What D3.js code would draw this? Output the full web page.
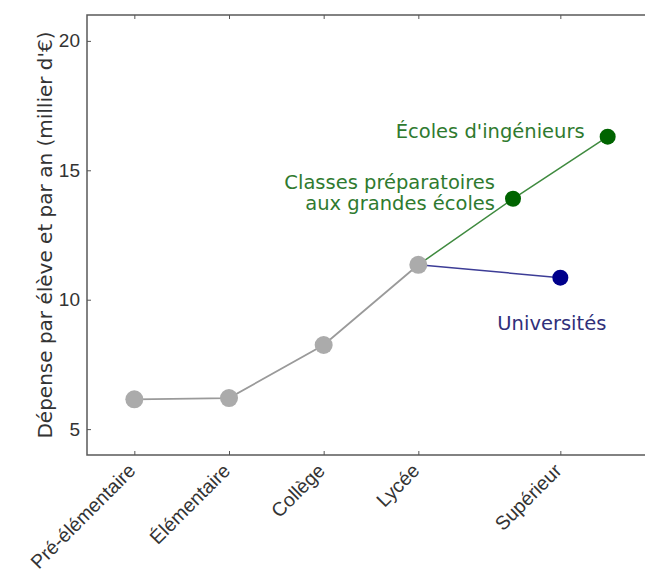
<!DOCTYPE html>
<html>
<head>
<meta charset="utf-8">
<style>
  body { margin: 0; background: #fff; overflow: hidden; }
  svg { display: block; font-family: "DejaVu Sans", sans-serif; }
  .tick text { fill: #333; }
</style>
<script src="https://d3js.org/d3.v7.min.js"></script>
</head>
<body>
<div class="home"></div>
<script>
    // main path: pré-élémentaire -> lycée, then "supérieur" branches
    const levels = ["Pré-élémentaire", "Élémentaire", "Collège", "Lycée", "Supérieur"];
    const levelPos = [0, 1, 2, 3, 4.5];
    const mainValues = [6.15, 6.2, 8.25, 11.35];

    const branchNames = ["Universités", "Classes préparatoires|aux grandes écoles", "Écoles d'ingénieurs"];
    const branchPos = [4.5, 4, 5];
    const branchValues = [10.85, 13.9, 16.3];
    const branchGroup = ["univ", "green", "green"];

    const yTicks = [5, 10, 15, 20];

    const width = 645, height = 580;
    const margin = {left: 87, top: 15, right: -10, bottom: 125};

    const svg = d3.select(".home").append("svg")
        .attr("width", width)
        .attr("height", height);

    const x = d3.scaleLinear()
        .domain([-0.5, 5.5])
        .range([margin.left, width - margin.right]);

    const y = d3.scaleLinear()
        .domain([4, 21])
        .range([height - margin.bottom, margin.top]);

    const colors = {univ: "#00008b", green: "#006400"};
    const lineColors = {univ: "#3c3c96", green: "#3f8a3f"};
    const labelColors = {univ: "#30307a", green: "#2f7a2f"};

    const lycee = {x: levelPos[3], v: mainValues[3]};
    const line = d3.line().x(d => x(d.x)).y(d => y(d.v));

    const g = svg.append("g");
    g.append("path")
        .datum([lycee, {x: branchPos[0], v: branchValues[0]}])
        .attr("fill", "none")
        .attr("stroke", lineColors.univ)
        .attr("stroke-width", 1.5)
        .attr("d", line);

    g.append("path")
        .datum([lycee, {x: branchPos[1], v: branchValues[1]}, {x: branchPos[2], v: branchValues[2]}])
        .attr("fill", "none")
        .attr("stroke", lineColors.green)
        .attr("stroke-width", 1.5)
        .attr("d", line);

    const mainData = mainValues.map((v, i) => ({x: levelPos[i], v: v}));
    g.append("path")
        .datum(mainData)
        .attr("fill", "none")
        .attr("stroke", "#9a9a9a")
        .attr("stroke-width", 1.8)
        .attr("d", line);

    g.selectAll("circle.main")
        .data(mainData)
        .enter().append("circle")
        .attr("class", "main")
        .attr("cx", d => x(d.x))
        .attr("cy", d => y(d.v))
        .attr("r", 9)
        .attr("fill", "#ababab");

    const branchData = branchValues.map((v, i) => ({
        x: branchPos[i], v: v, name: branchNames[i], grp: branchGroup[i]
    }));

    g.selectAll("circle.branch")
        .data(branchData)
        .enter().append("circle")
        .attr("class", "branch")
        .attr("cx", d => x(d.x))
        .attr("cy", d => y(d.v))
        .attr("r", 8)
        .attr("fill", d => colors[d.grp]);

    // labels
    const labelOffsets = [
        {dx: -63, dy: 52, anchor: "start"},
        {dx: -18, dy: -10, anchor: "end"},
        {dx: -23, dy: 1, anchor: "end"}
    ];
    branchData.forEach((d, i) => {
        const o = labelOffsets[i];
        const lines = d.name.split("|");
        const t = svg.append("text")
            .attr("x", x(d.x) + o.dx)
            .attr("y", y(d.v) + o.dy)
            .attr("text-anchor", o.anchor)
            .attr("fill", labelColors[d.grp])
            .style("font-size", "19.5px");
        lines.forEach((l, j) => {
            t.append("tspan")
                .attr("x", x(d.x) + o.dx)
                .attr("dy", j === 0 ? 0 : 21)
                .text(l);
        });
    });

    // frame: left, top, bottom (right side is outside the picture)
    const x0 = x.range()[0], x1 = x.range()[1];
    const yb = y.range()[0], yt = y.range()[1];
    svg.append("path")
        .attr("d", `M${x1},${yt}H${x0}V${yb}H${x1}`)
        .attr("fill", "none")
        .attr("stroke", "#5a5a5a")
        .attr("stroke-width", 1.5);

    // y axis (ticks inward)
    const yAxis = svg.append("g")
        .attr("transform", `translate(${margin.left},0)`)
        .call(d3.axisLeft(y).tickValues(yTicks).tickSize(-4).tickPadding(7));
    yAxis.select(".domain").remove();
    yAxis.selectAll(".tick line").attr("stroke", "#555");
    yAxis.selectAll(".tick text").style("font-size", "19px");

    // x axis bottom
    const xAxis = svg.append("g")
        .attr("transform", `translate(0,${yb})`)
        .call(d3.axisBottom(x).tickValues(levelPos).tickSize(-4)
            .tickFormat((d, i) => levels[i]));
    xAxis.select(".domain").remove();
    xAxis.selectAll(".tick line").attr("stroke", "#555");
    xAxis.selectAll(".tick text")
        .style("font-size", "19.5px")
        .attr("text-anchor", "end")
        .attr("dy", "0.35em")
        .attr("transform", "translate(-5,10) rotate(-45)");

    // top ticks
    const xTop = svg.append("g")
        .attr("transform", `translate(0,${yt})`)
        .call(d3.axisTop(x).tickValues(levelPos).tickSize(-4).tickFormat(""));
    xTop.select(".domain").remove();
    xTop.selectAll(".tick line").attr("stroke", "#555");

    // y label
    svg.append("text")
        .attr("transform", `translate(52,${(yt + yb) / 2}) rotate(-90)`)
        .attr("text-anchor", "middle")
        .attr("fill", "#333")
        .style("font-size", "20px")
        .text("Dépense par élève et par an (millier d'€)");
</script>
</body>
</html>
